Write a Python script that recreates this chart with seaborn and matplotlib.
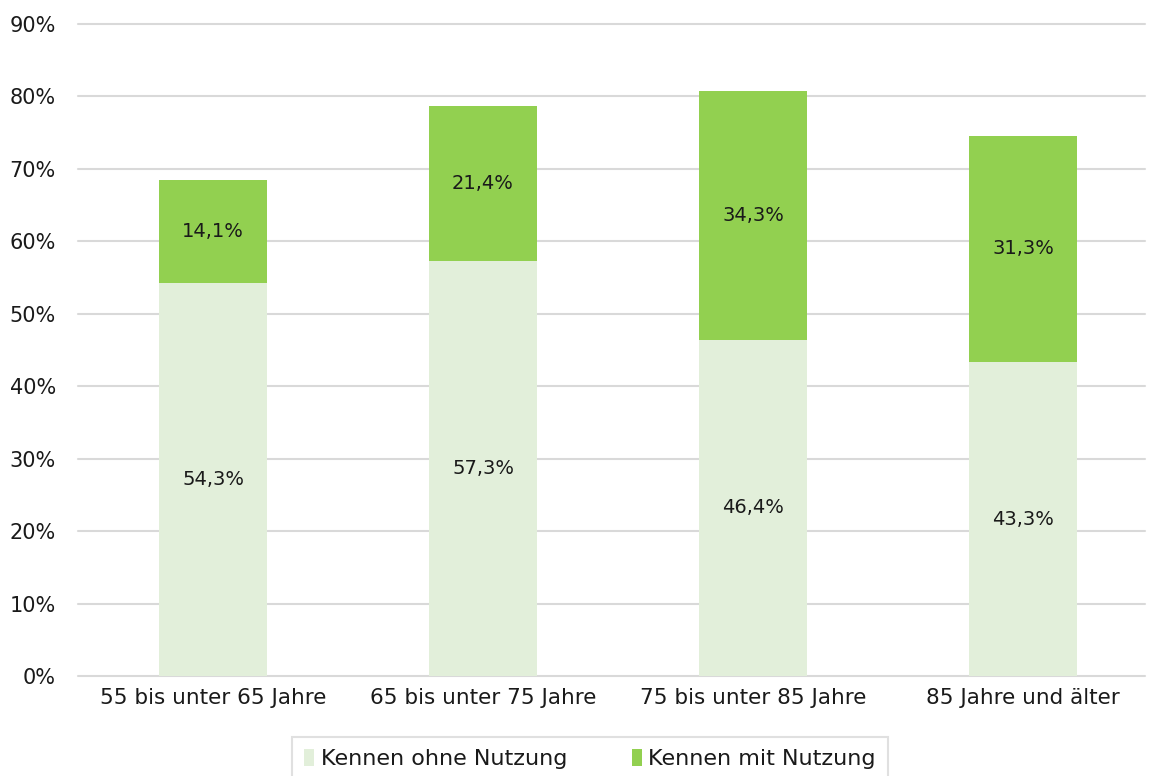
import matplotlib
matplotlib.use("Agg")
import matplotlib.pyplot as plt
import seaborn as sns
import pandas as pd
from matplotlib.patches import Patch

categories = ["55 bis unter 65 Jahre", "65 bis unter 75 Jahre",
              "75 bis unter 85 Jahre", "85 Jahre und älter"]
ohne_nutzung = [54.3, 57.3, 46.4, 43.3]
mit_nutzung = [14.1, 21.4, 34.3, 31.3]
series_names = ["Kennen ohne Nutzung", "Kennen mit Nutzung"]
y_ticks = [0, 10, 20, 30, 40, 50, 60, 70, 80, 90]

light_green = "#E2EFDA"
green = "#92D050"
grid_col = "#D9D9D9"
text_col = "#1a1a1a"

sns.set_theme(style="white")
plt.rcParams["font.family"] = ["DejaVu Sans"]

df = pd.DataFrame({
    "Kategorie": categories,
    "ohne": ohne_nutzung,
    "mit": mit_nutzung,
})
df["gesamt"] = df["ohne"] + df["mit"]

W, H = 1155, 776
left_px, right_px, top_px, bottom_px = 78, 1145, 24, 676
fig = plt.figure(figsize=(W / 100, H / 100), dpi=100)
ax = fig.add_axes([left_px / W, 1 - bottom_px / H,
                   (right_px - left_px) / W, (bottom_px - top_px) / H])

for v in y_ticks:
    ax.axhline(v, color=grid_col, lw=1.5, zorder=0, clip_on=False)

sns.barplot(data=df, x="Kategorie", y="gesamt", color=green, width=0.4,
            saturation=1, linewidth=0, ax=ax, zorder=2)
sns.barplot(data=df, x="Kategorie", y="ohne", color=light_green, width=0.4,
            saturation=1, linewidth=0, ax=ax, zorder=3)

for i, (a, b) in enumerate(zip(ohne_nutzung, mit_nutzung)):
    ax.text(i, a / 2, f"{a:.1f}%".replace(".", ","), ha="center", va="center",
            fontsize=14, color=text_col, zorder=4)
    ax.text(i, a + b / 2, f"{b:.1f}%".replace(".", ","), ha="center", va="center",
            fontsize=14, color=text_col, zorder=4)

ax.set_ylim(0, 90)
ax.set_xlim(-0.5, (right_px - left_px) / 270 - 0.5)
ax.set_yticks(y_ticks)
ax.set_yticklabels([f"{v}%" for v in y_ticks], fontsize=15, color=text_col)
ax.set_xticks(range(len(categories)))
ax.set_xticklabels(categories, fontsize=15.5, color=text_col)
ax.tick_params(axis="both", length=0)
ax.tick_params(axis="x", pad=9)
ax.tick_params(axis="y", pad=16)
ax.set_xlabel("")
ax.set_ylabel("")
for s in ax.spines.values():
    s.set_visible(False)

handles = [Patch(facecolor=light_green, edgecolor="none"),
           Patch(facecolor=green, edgecolor="none")]
leg = fig.legend(handles, series_names, loc="upper center",
                 bbox_to_anchor=(590 / W, 1 - 737 / H), ncol=2, fontsize=16,
                 frameon=True, fancybox=False, edgecolor=grid_col,
                 handlelength=0.45, handleheight=0.8, handletextpad=0.3,
                 columnspacing=2.9, borderpad=0.55, borderaxespad=0)
leg.get_frame().set_linewidth(1.5)
for t in leg.get_texts():
    t.set_color(text_col)

fig.savefig("out.png", dpi=100)
